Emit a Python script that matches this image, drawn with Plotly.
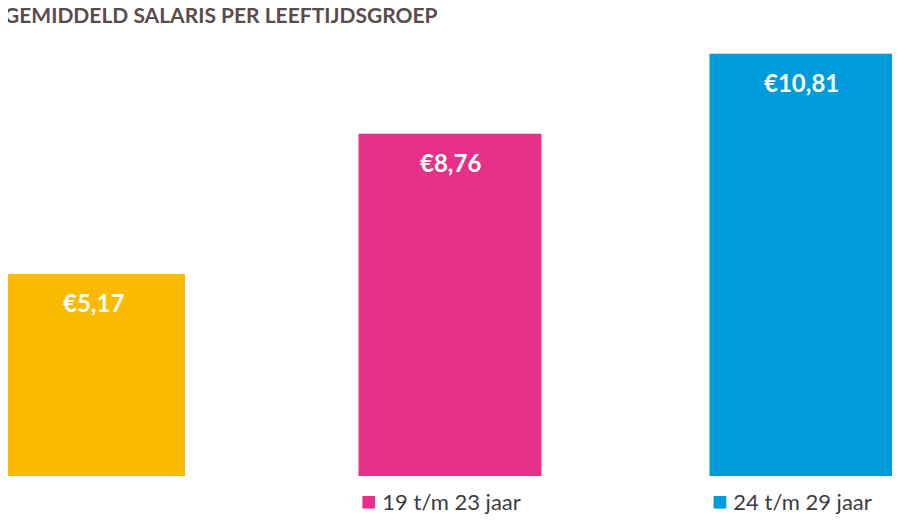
import plotly.graph_objects as go

categories = ["13 t/m 18 jaar", "19 t/m 23 jaar", "24 t/m 29 jaar"]
values = [5.17, 8.76, 10.81]
labels = ["€5,17", "€8,76", "€10,81"]
colors = ["#FBBA00", "#E6308A", "#009BDB"]
centers = [85.5, 442, 793]
bar_w = 183

fig = go.Figure(go.Bar(x=centers, y=values, width=bar_w, marker_color=colors,
                       marker_line_width=0, hoverinfo="skip"))
for c, v, t, col, cat in zip(centers, values, labels, colors, categories):
    fig.add_annotation(x=c, y=v, text=f"<b>{t}</b>", showarrow=False, yanchor="top",
                       yshift=-12, font=dict(family="Lato", size=24, color="white"))
    fig.add_annotation(x=c - bar_w / 2, y=0, xanchor="left", yanchor="top", yshift=-6,
                       text=f"<span style='color:{col};font-size:26px'>■</span> {cat}", showarrow=False,
                       font=dict(family="Lato", size=22, color="#3c3c3c"))
fig.add_annotation(xref="paper", yref="paper", x=0, y=1, xanchor="left", yanchor="top",
                   yshift=8, xshift=-6, text="<b>GEMIDDELD SALARIS PER LEEFTIJDSGROEP</b>", showarrow=False,
                   font=dict(family="Lato", size=21, color="#5b4c4c"))
fig.update_layout(width=900, height=520, margin=dict(l=0, r=0, t=0, b=52),
                  plot_bgcolor="white", paper_bgcolor="white", showlegend=False,
                  xaxis=dict(range=[0, 900], visible=False),
                  yaxis=dict(range=[0, 11.98], visible=False))
fig.write_html("out.html")
